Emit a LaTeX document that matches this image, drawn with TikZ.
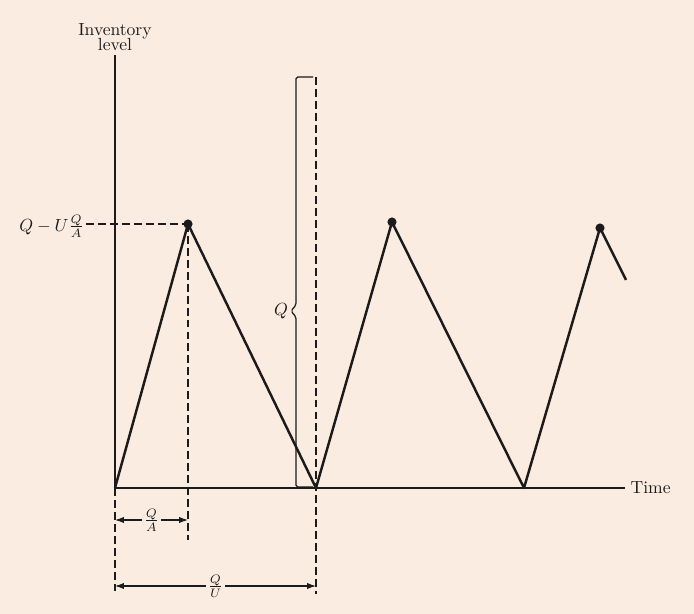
\documentclass[tikz,border=0pt]{standalone}
\usepackage{amsmath}
\usepackage{tikz}
\usetikzlibrary{
    positioning,  % Required for relative placement
    arrows.meta,  % Required for Latex arrowheads
    calc          % Required for coordinate calculations
}
\definecolor{paper}{RGB}{250,236,224}
\definecolor{ink}{RGB}{28,26,26}

\begin{document}
\begin{tikzpicture}[x=0.02cm, y=-0.02cm,
        saw/.style={ink, line width=1.4pt, line join=round},
        axisline/.style={ink, line width=0.7pt},
        guide/.style={ink, line width=0.6pt, dash pattern=on 4.5pt off 2.3pt},
        dimline/.style={ink, line width=0.6pt, {Latex[length=5pt,width=3.5pt]}-{Latex[length=5pt,width=3.5pt]}},
        lbl/.style={ink, font=\normalsize}]
        % Paper
        \fill[paper] (0,0) rectangle (694,614);
        
        % Axes
        \coordinate (o) at (115,488);
        \coordinate (ytop) at (115,55);
        \coordinate (xend) at (625,488);
        \draw[axisline] (o) -- (ytop);
        \draw[axisline] (o) -- (xend);
        \node[lbl, anchor=south, align=center, inner sep=2pt] (ylab) at (ytop) {Inventory\\[-3pt]level};
        \node[lbl, anchor=west, inner sep=3pt] (xlab) at (xend) {Time};
        
        % Sawtooth of inventory
        \coordinate (p1) at (188,224);
        \coordinate (v1) at (316,488);
        \coordinate (p2) at (392,222);
        \coordinate (v2) at (524,488);
        \coordinate (p3) at (600,228);
        \coordinate (tail) at (626,280);
        \draw[saw] (o) -- (p1) -- (v1) -- (p2) -- (v2) -- (p3) -- (tail);
        \foreach \p in {p1,p2,p3}
            \fill[ink] (\p) circle (2.6pt);
        
        % Maximum level
        \node[lbl, anchor=east, inner sep=1pt] (qmax) at (86,226) {$Q-U\tfrac{Q}{A}$};
        \draw[guide] (qmax.east |- p1) -- (p1);
        
        % Guide lines
        \coordinate (g1) at (188,540);
        \coordinate (g0) at (115,594);
        \coordinate (gtop) at (316,77);
        \coordinate (g2) at (316,594);
        \draw[guide] (p1) -- (g1);
        \draw[guide] (o) -- (g0);
        \draw[guide] (gtop) -- (g2);
        
        % Order quantity bracket
        \draw[ink, line width=0.7pt, rounded corners=1pt]
            (313,77) -| (296,305) -- (291,311) -- (296,317) |- (313,487);
        \node[lbl, anchor=east, inner sep=1pt] (qlab) at (290,311) {$Q$};
        
        % Time spans
        \coordinate (a0) at (115,520);
        \coordinate (a1) at (188,520);
        \coordinate (b0) at (115,586);
        \coordinate (b1) at (316,586);
        \draw[dimline] (a0) -- (a1);
        \node[lbl, fill=paper, inner sep=1pt] (qa) at ($(a0)!0.5!(a1)$) {$\frac{Q}{A}$};
        \draw[dimline] (b0) -- (b1);
        \node[lbl, fill=paper, inner sep=1pt] (qu) at ($(b0)!0.5!(b1)$) {$\frac{Q}{U}$};
    \end{tikzpicture}
\end{document}
